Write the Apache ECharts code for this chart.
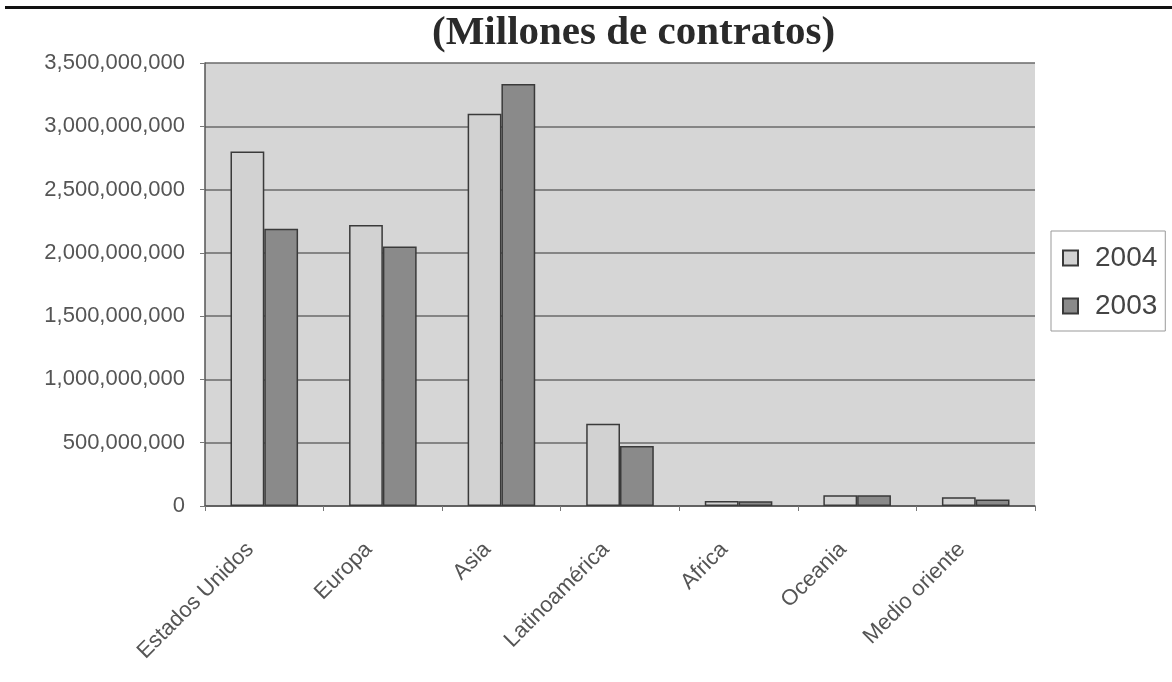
<!DOCTYPE html>
<html>
<head>
<meta charset="utf-8">
<script src="https://cdn.jsdelivr.net/npm/echarts@6/dist/echarts.min.js"></script>
<style>
  html, body { margin: 0; padding: 0; background: #fff; }
  #chart { width: 1172px; height: 682px; }
</style>
</head>
<body>
<div id="chart"></div>
<script>
// regiones
const categories = ['Estados Unidos', 'Europa', 'Asia', 'Latinoamérica', 'Africa', 'Oceania', 'Medio oriente']
// contratos por año
const values2004 = [2800000000, 2220000000, 3100000000, 650000000, 40000000, 85000000, 70000000]
const values2003 = [2190000000, 2050000000, 3335000000, 475000000, 38000000, 85000000, 52000000]
const yTicks = [0, 500000000, 1000000000, 1500000000, 2000000000, 2500000000, 3000000000, 3500000000]

const chart = echarts.init(document.getElementById('chart'))

const fmt = v => String(v).replace(/\B(?=(\d{3})+(?!\d))/g, ',')

chart.setOption({
  animation: false,
  title: {
    text: '(Millones de contratos)',
    left: 427,
    top: 8,
    textStyle: {
      fontFamily: 'Liberation Serif',
      fontWeight: 'bold',
      fontSize: 41,
      color: '#2a2a2a'
    }
  },
  graphic: [{
    type: 'rect',
    shape: { x: 5, y: 6, width: 1167, height: 3 },
    style: { fill: '#111' }
  }],
  legend: {
    orient: 'vertical',
    left: 1051,
    top: 231,
    padding: [13, 8, 11, 11],
    itemGap: 20,
    itemWidth: 15,
    itemHeight: 15,
    icon: 'rect',
    borderColor: '#999',
    borderWidth: 1,
    backgroundColor: '#fff',
    textStyle: { fontFamily: 'Liberation Sans', fontSize: 28, color: '#444', padding: [0, 0, 0, 12] },
    data: ['2004', '2003']
  },
  grid: {
    left: 205,
    right: 137,
    top: 63,
    bottom: 176,
    show: true,
    backgroundColor: '#d6d6d6',
    borderWidth: 0
  },
  xAxis: {
    type: 'category',
    data: categories,
    axisLine: { lineStyle: { color: '#555', width: 1.5 } },
    axisTick: { show: true, length: 5, lineStyle: { color: '#777' } },
    axisLabel: {
      rotate: 45,
      margin: 26,
      padding: [0, 20, 0, 0],
      fontFamily: 'Liberation Sans',
      fontSize: 22,
      color: '#555'
    }
  },
  yAxis: {
    type: 'value',
    min: yTicks[0],
    max: yTicks[yTicks.length - 1],
    interval: yTicks[1] - yTicks[0],
    axisLine: { show: true, lineStyle: { color: '#555', width: 1.5 } },
    axisTick: { show: true, length: 5, lineStyle: { color: '#777' } },
    splitLine: { lineStyle: { color: '#6a6a6a', width: 1.5 } },
    axisLabel: {
      margin: 20,
      fontFamily: 'Liberation Sans',
      fontSize: 22,
      color: '#555',
      formatter: fmt
    }
  },
  series: [
    {
      name: '2004',
      type: 'bar',
      data: values2004,
      barGap: '0%',
      barCategoryGap: '43%',
      itemStyle: { color: '#d2d2d2', borderColor: '#3a3a3a', borderWidth: 1.5 }
    },
    {
      name: '2003',
      type: 'bar',
      data: values2003,
      itemStyle: { color: '#8a8a8a', borderColor: '#3a3a3a', borderWidth: 1.5 }
    }
  ]
})
</script>
</body>
</html>
